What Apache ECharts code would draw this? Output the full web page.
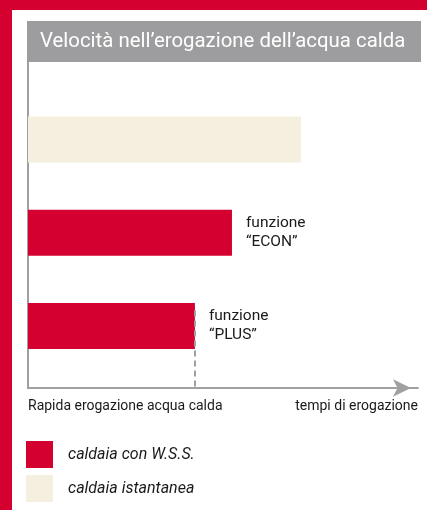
<!DOCTYPE html>
<html lang="it">
<head>
<meta charset="UTF-8">
<title>Velocità erogazione</title>
<script src="https://cdn.jsdelivr.net/npm/echarts@6/dist/echarts.min.js"></script>
<style>
body{margin:0;padding:0;background:#fff;}
#main{width:427px;height:510px;}
</style>
</head>
<body>
<div id="main"></div>
<script>
// dati
var rowLabels = ['caldaia istantanea', 'funzione\n\u201cECON\u201d', 'funzione\n\u201cPLUS\u201d'];
var wssValues = ['-', 52.3, 42.8];
var istValues = [70, '-', '-'];
var xTickLabels = ['Rapida erogazione acqua calda', 'tempi di erogazione'];
var seriesNames = ['caldaia con W.S.S.', 'caldaia istantanea'];

// righe dell'asse y (22 posizioni, barre in 5, 11, 17)
var slotCount = 22;
var rowSlot = [5, 11, 17];

var yData = [], wssData = [], istData = [];
for (var i = 0; i < slotCount; i++) {
    yData.push('');
    wssData.push('-');
    istData.push('-');
}
for (var k = 0; k < rowSlot.length; k++) {
    yData[rowSlot[k]] = rowLabels[k];
    wssData[rowSlot[k]] = wssValues[k];
    istData[rowSlot[k]] = istValues[k];
}

var red = '#d40030';
var beige = '#f5efdf';
var grey = '#a0a0a2';
var font = 'Roboto';

var myChart = echarts.init(document.getElementById('main'));
var option = {
    backgroundColor: '#fff',
    animation: false,
    textStyle: { fontFamily: font },
    title: {
        text: 'Velocit\u00e0 nell\u2019erogazione dell\u2019acqua calda',
        left: 27,
        top: 21,
        padding: [9, 0, 9, 13],
        backgroundColor: '#9d9d9f',
        textStyle: {
            color: '#fff',
            fontSize: 20.4,
            fontWeight: 'normal',
            fontFamily: font,
            width: 381,
            lineHeight: 23
        }
    },
    graphic: [
        { type: 'rect', left: 0, top: 0, shape: { width: 427, height: 10 }, style: { fill: red }, silent: true },
        { type: 'rect', left: 0, top: 0, shape: { width: 12, height: 510 }, style: { fill: red }, silent: true }
    ],
    legend: {
        orient: 'vertical',
        left: 26,
        top: 441,
        padding: 0,
        itemWidth: 27,
        itemHeight: 27,
        itemGap: 7,
        icon: 'rect',
        data: seriesNames,
        textStyle: {
            fontSize: 16,
            fontStyle: 'italic',
            color: '#1a1a1a',
            fontFamily: font,
            padding: [0, 0, 0, 10]
        }
    },
    grid: {
        left: 28,
        right: 9,
        top: 62,
        bottom: 122
    },
    xAxis: {
        type: 'value',
        min: 0,
        max: 100,
        interval: 100,
        splitLine: { show: false },
        axisTick: { show: false },
        axisLine: {
            show: true,
            symbol: ['none', 'arrow'],
            symbolSize: [13, 18],
            symbolOffset: [0, -7],
            lineStyle: { color: grey, width: 2 }
        },
        axisLabel: {
            show: true,
            margin: 11,
            fontSize: 14,
            color: '#1a1a1a',
            alignMinLabel: 'left',
            alignMaxLabel: 'right',
            formatter: function (v) {
                return v === 0 ? xTickLabels[0] : xTickLabels[1];
            }
        }
    },
    yAxis: {
        type: 'category',
        inverse: true,
        boundaryGap: false,
        data: yData,
        axisTick: { show: false },
        axisLabel: { show: false },
        axisLine: { show: true, lineStyle: { color: grey, width: 2 } }
    },
    series: [
        {
            name: seriesNames[0],
            type: 'bar',
            barWidth: 46,
            barGap: '-100%',
            itemStyle: { color: red },
            data: wssData,
            z: 2,
            label: {
                show: true,
                position: 'right',
                distance: 14,
                fontSize: 15.5,
                lineHeight: 19,
                color: '#1a1a1a',
                fontFamily: font,
                formatter: function (p) { return p.name; }
            },
            markLine: {
                silent: true,
                symbol: 'none',
                z: 3,
                label: { show: false },
                lineStyle: { color: grey, width: 2, type: [6, 4] },
                data: [
                    [{ coord: [wssValues[2], rowSlot[2] - 1] }, { coord: [wssValues[2], slotCount - 1] }]
                ]
            }
        },
        {
            name: seriesNames[1],
            type: 'bar',
            barWidth: 46,
            barGap: '-100%',
            itemStyle: { color: beige },
            data: istData,
            z: 2
        }
    ]
};
myChart.setOption(option);
</script>
</body>
</html>
